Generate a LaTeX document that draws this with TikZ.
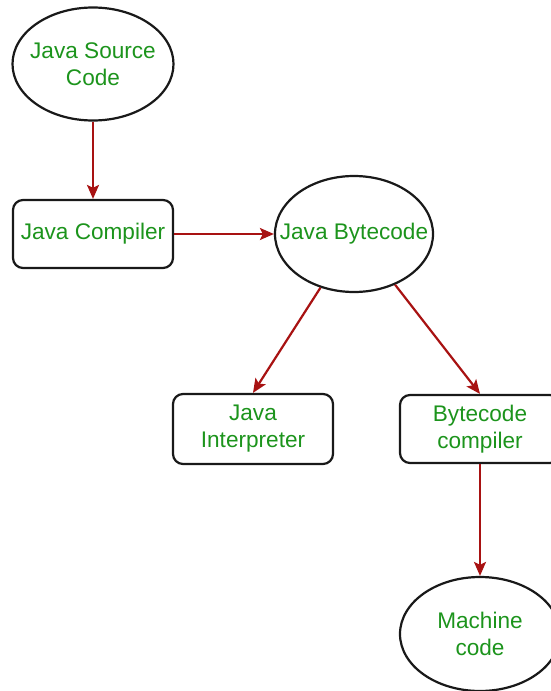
\documentclass[tikz,border=0pt]{standalone}
\usepackage{fontspec}
\setmainfont{Liberation Sans}
\usetikzlibrary{shapes.geometric,arrows.meta}
\definecolor{labelgreen}{RGB}{28,148,28}
\definecolor{flowred}{RGB}{168,18,18}
\tikzset{
  labeltext/.style={text=labelgreen, font=\fontsize{22.6}{27}\selectfont,
    align=center, inner sep=0pt},
  base/.style={draw=black!90, line width=2.2pt, fill=white},
  % ellipse size is fixed; its text is set as a centred label so it
  % does not widen the outline
  oval/.style={base, ellipse, inner sep=0pt},
  stepbox/.style={base, labeltext, rectangle, rounded corners=10pt},
  flow/.style={draw=flowred, line width=2.2pt,
    -{Stealth[length=14pt,width=12pt,inset=3pt]}}
}
\begin{document}
\begin{tikzpicture}[x=1pt,y=-1pt]
  \clip (0,0) rectangle (551,691);
  \fill[white] (0,0) rectangle (551,691);

  \node[oval, minimum width=161pt, minimum height=113pt,
        label={[labeltext]center:Java Source\\Code}] (src) at (93,64) {};
  \node[stepbox, minimum width=160pt, minimum height=68pt] (comp) at (93,234) {Java Compiler};
  \node[oval, minimum width=158pt, minimum height=116pt,
        label={[labeltext]center:Java Bytecode}] (bc) at (354,234) {};
  \node[stepbox, minimum width=160pt, minimum height=70pt] (interp) at (253,429) {Java\\Interpreter};
  \node[stepbox, minimum width=160pt, minimum height=68pt] (bcc) at (480,429) {Bytecode\\compiler};
  \node[oval, minimum width=160pt, minimum height=114pt,
        label={[labeltext]center:Machine\\code}] (mc) at (480,634) {};

  \draw[flow] (src.south) -- (comp.north);
  \draw[flow] (comp.east) -- (bc.west);
  \draw[flow] (bc.238) -- (interp.north);
  \draw[flow] (bc.309) -- (bcc.north);
  \draw[flow] (bcc.south) -- (mc.north);
\end{tikzpicture}
\end{document}
